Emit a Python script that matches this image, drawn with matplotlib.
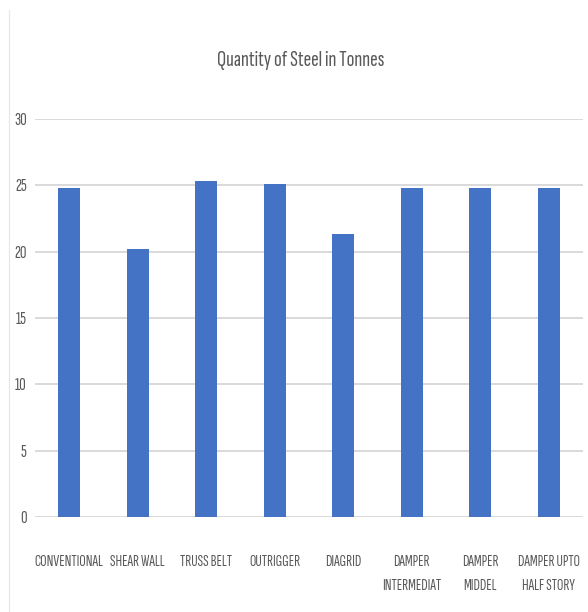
import matplotlib
matplotlib.use("Agg")
import matplotlib.pyplot as plt
from matplotlib.lines import Line2D

categories = ["CONVENTIONAL", "SHEAR WALL", "TRUSS BELT", "OUTRIGGER", "DIAGRID",
              "DAMPER\nINTERMEDIAT", "DAMPER\nMIDDEL", "DAMPER UPTO\nHALF STORY"]
steel_tonnes = [24.8, 20.2, 25.3, 25.1, 21.3, 24.8, 24.8, 24.8]
y_ticks = [0, 5, 10, 15, 20, 25, 30]

FONT = ["Sofia Sans Extra Condensed", "DejaVu Sans"]
TEXT_COLOR = "#595959"
GRID_COLOR = "#D9D9D9"
BAR_COLOR = "#4472C4"

fig = plt.figure(figsize=(5.88, 6.12), dpi=100)
ax = fig.add_axes([35 / 588, 1 - 517 / 612, (583 - 35) / 588, (517 - 119) / 612])

x = range(len(categories))
ax.bar(x, steel_tonnes, width=0.32, color=BAR_COLOR, zorder=3)

ax.set_ylim(0, 30)
ax.set_xlim(-0.5, len(categories) - 0.5)
ax.set_yticks(y_ticks)
ax.set_yticklabels([str(t) for t in y_ticks], family=FONT,
                   fontsize=13, color=TEXT_COLOR)
ax.set_xticks(list(x))
ax.set_xticklabels(categories, family=FONT, fontsize=11.5,
                   color=TEXT_COLOR, linespacing=1.95, va="top")
ax.tick_params(axis="both", length=0)
ax.tick_params(axis="x", pad=27)
ax.tick_params(axis="y", pad=6)

ax.grid(axis="y", color=GRID_COLOR, linewidth=1.4, zorder=0)
for s in ax.spines.values():
    s.set_visible(False)

fig.text(0.511, 1 - 60 / 612, "Quantity of Steel in Tonnes", family=FONT,
         fontsize=16.5, color=TEXT_COLOR, ha="center", va="center")

# thin frame line on the left edge
fig.add_artist(Line2D([9 / 588, 9 / 588], [0, 1 - 10 / 612], transform=fig.transFigure,
                      color="#E6E6E6", linewidth=0.8))

fig.savefig("out.png", dpi=100)
